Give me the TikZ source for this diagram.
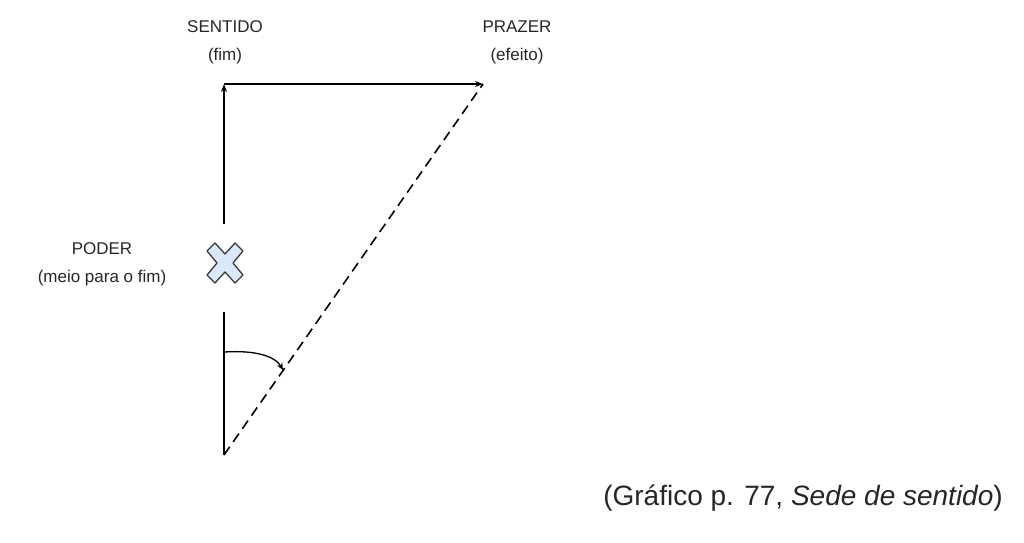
\documentclass[tikz,border=0pt]{standalone}
\usepackage{fontspec}
\setmainfont{Liberation Sans}
\usetikzlibrary{arrows.meta,calc}
\definecolor{txt}{HTML}{262626}
\definecolor{xfill}{HTML}{DAE8FC}
\definecolor{xline}{HTML}{3A3A3A}
\tikzset{
  lbl/.style={text=txt, font=\fontsize{17}{28}\selectfont, align=center, inner sep=0pt},
  ln/.style={draw=black, line width=1.5pt},
  arr/.style={ln, -{Stealth[length=8pt,width=6pt]}},
  dsh/.style={draw=black, line width=1.6pt, dash pattern=on 10pt off 6pt}
}
\begin{document}
\begin{tikzpicture}[x=1pt,y=-1pt]
\useasboundingbox (0,0) rectangle (1024,542);
% coordinates
\coordinate (top) at (224,84);
\coordinate (right) at (483,84);
\coordinate (bottom) at (224,455);
\coordinate (upEnd) at (224,224);
\coordinate (loStart) at (224,312);
\coordinate (arcS) at (224,352);
\coordinate (arcE) at (283,370);
% labels
\node[lbl] (sentido) at (225,42) {SENTIDO\\(fim)};
\node[lbl] (prazer) at (517,42) {PRAZER\\(efeito)};
\node[lbl] (poder) at (102,264) {PODER\\(meio para o fim)};
\node[text=txt, font=\fontsize{28}{32}\selectfont, inner sep=0pt] (cap) at (803,498) {(Gráfico p. 77, \textit{Sede de sentido})};
% X mark
\node[inner sep=0pt, minimum width=36pt, minimum height=40pt] (xmark) at (225,263) {};
\draw[fill=xfill, draw=xline, line width=1.3pt, line join=round]
  ($(xmark)+(0,-9)$) -- ++(10,-11) -- ++(8,8) -- ++(-10,12) -- ++(10,12) -- ++(-8,8) -- ++(-10,-11)
  -- ++(-10,11) -- ++(-8,-8) -- ++(10,-12) -- ++(-10,-12) -- ++(8,-8) -- cycle;
% lines
\draw[ln] (bottom) -- (loStart);
\draw[arr] (upEnd) -- (top);
\draw[arr] (top) -- (right);
\draw[dsh] (bottom) -- (right);
\draw[ln, line width=1.3pt, -{Stealth[length=7pt,width=6pt]}] (arcS) .. controls (255,350) and (275,356) .. (arcE);
\end{tikzpicture}
\end{document}
